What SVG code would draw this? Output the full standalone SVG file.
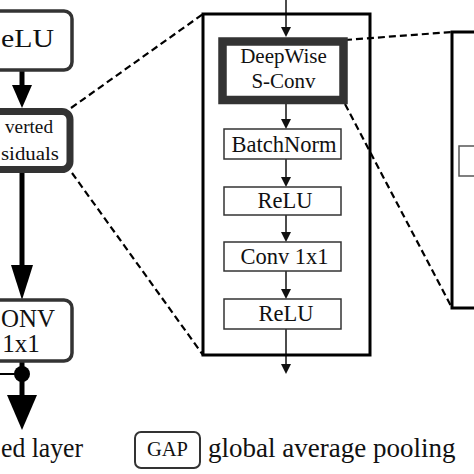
<svg xmlns="http://www.w3.org/2000/svg" width="474" height="474" viewBox="0 0 474 474">
<style>
text{font-family:"Liberation Serif","Times New Roman",serif;fill:#111;text-anchor:middle}
.st{text-anchor:start}
.lbox{fill:#fff;stroke:#333;stroke-width:3.5}
.sbox{fill:#fff;stroke:#333;stroke-width:1.5}
.thin{stroke:#111;stroke-width:1.5;fill:none}
.thick{stroke:#000;stroke-width:5;fill:none}
.dash{stroke:#000;stroke-width:2.2;stroke-dasharray:7 4;fill:none}
.frame{fill:none;stroke:#000;stroke-width:3}
</style>
<rect width="474" height="474" fill="#fff"/>
<g id="connectors">
<line class="dash" x1="71" y1="108" x2="203" y2="14"/>
<line class="dash" x1="72" y1="173" x2="203" y2="355"/>
<line class="dash" x1="345" y1="40" x2="452" y2="32"/>
<line class="dash" x1="345" y1="104" x2="452" y2="308"/>
<line class="thick" x1="22" y1="70" x2="22" y2="90"/>
<polygon points="12,85 32,85 22,108" fill="#000"/>
<line class="thick" x1="22" y1="173" x2="22" y2="270"/>
<polygon points="11,265 33,265 22,300" fill="#000"/>
<line x1="0" y1="374" x2="22" y2="374" stroke="#000" stroke-width="2"/>
<circle cx="22" cy="374" r="8" fill="#000"/>
<line class="thick" x1="22" y1="361" x2="22" y2="400"/>
<polygon points="7,395 37,395 22,430" fill="#000"/>
<line class="thin" x1="286" y1="0" x2="286" y2="30"/>
<polygon points="281,27 291,27 286,37" fill="#111"/>
<line class="thin" x1="286" y1="104" x2="286" y2="122"/>
<polygon points="281,119 291,119 286,129" fill="#111"/>
<line class="thin" x1="286" y1="159" x2="286" y2="180"/>
<polygon points="281,177 291,177 286,187" fill="#111"/>
<line class="thin" x1="286" y1="215" x2="286" y2="235"/>
<polygon points="281,232 291,232 286,242" fill="#111"/>
<line class="thin" x1="286" y1="271" x2="286" y2="292"/>
<polygon points="281,289 291,289 286,299" fill="#111"/>
<line class="thin" x1="286" y1="329" x2="286" y2="366"/>
<polygon points="281,364 291,364 286,374" fill="#111"/>
</g>
<g id="relu-left">
<rect class="lbox" x="-30" y="11" width="102" height="59" rx="8"/>
<text class="st" x="1" y="47" font-size="25" textLength="53" lengthAdjust="spacingAndGlyphs">eLU</text>
</g>
<g id="inverted-residuals">
<rect x="-30" y="111.5" width="100" height="58" rx="8" fill="#fff" stroke="#333" stroke-width="7"/>
<text class="st" x="5" y="133" font-size="19.5" textLength="48" lengthAdjust="spacingAndGlyphs">verted</text>
<text class="st" x="1" y="160" font-size="19.5" textLength="58" lengthAdjust="spacingAndGlyphs">siduals</text>
</g>
<g id="conv-left">
<rect class="lbox" x="-30" y="300" width="102" height="61" rx="8"/>
<text class="st" x="1" y="327" font-size="25" textLength="54" lengthAdjust="spacingAndGlyphs">ONV</text>
<text x="21" y="352" font-size="25">1x1</text>
</g>
<g id="output-label">
<text class="st" x="1" y="457" font-size="26.5" textLength="82" lengthAdjust="spacingAndGlyphs">ed layer</text>
</g>
<g id="block-frame">
<rect class="frame" x="203" y="14" width="167" height="341"/>
</g>
<g id="deepwise">
<rect x="222.5" y="41.5" width="121" height="58.5" fill="#fff" stroke="#333" stroke-width="8.5"/>
<text x="283.5" y="63" font-size="21">DeepWise</text>
<text x="283.5" y="88" font-size="21">S-Conv</text>
</g>
<g id="batchnorm">
<rect class="sbox" x="224" y="129" width="117" height="30"/>
<text x="284" y="152" font-size="22.5">BatchNorm</text>
</g>
<g id="relu-1">
<rect class="sbox" x="224" y="187" width="117" height="28"/>
<text x="285" y="208" font-size="22.5">ReLU</text>
</g>
<g id="conv1x1">
<rect class="sbox" x="224" y="242" width="117" height="29"/>
<text x="284.5" y="264" font-size="22.5">Conv 1x1</text>
</g>
<g id="relu-2">
<rect class="sbox" x="224" y="299" width="117" height="30"/>
<text x="286" y="321" font-size="22.5">ReLU</text>
</g>
<g id="right-panel">
<rect class="frame" x="452" y="32" width="40" height="276"/>
<rect x="459" y="146" width="40" height="30" fill="#fff" stroke="#555" stroke-width="1.5"/>
</g>
<g id="legend">
<rect x="135" y="432" width="65" height="36" rx="6" fill="#fff" stroke="#333" stroke-width="2"/>
<text x="167.5" y="456" font-size="20.5">GAP</text>
<text class="st" x="208" y="457" font-size="27">global average pooling</text>
</g>
</svg>
